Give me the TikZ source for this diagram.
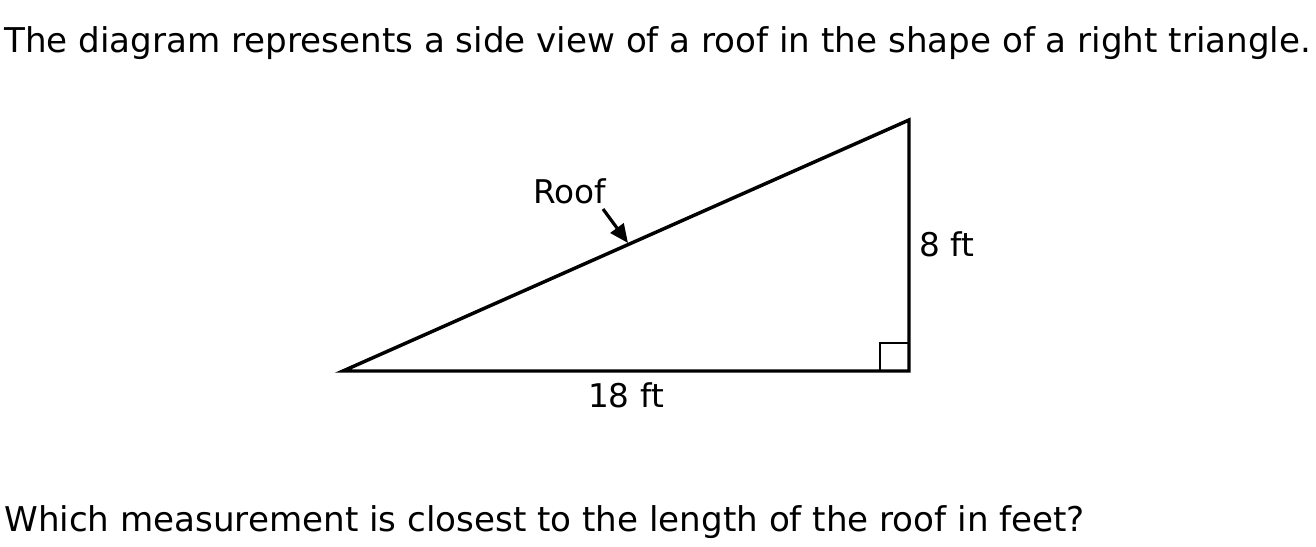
\documentclass[tikz,border=0pt]{standalone}
\usepackage{fontspec}
\setmainfont{DejaVu Sans}
\usetikzlibrary{arrows.meta}
\begin{document}
\begin{tikzpicture}[x=0.75pt,y=-0.75pt,
  edge/.style={line width=2.6pt,line join=miter},
  big/.style={font=\fontsize{25.6}{29}\selectfont,inner sep=0pt,anchor=base west},
  lab/.style={font=\fontsize{24.5}{28}\selectfont,inner sep=0pt}]
\useasboundingbox (0,0) rectangle (1316,546);
\fill[white] (0,0) rectangle (1316,546);
\node[big] (title) at (4,52) {The diagram represents a side view of a roof in the shape of a right triangle.};
\node[big] (question) at (4,531) {Which measurement is closest to the length of the roof in feet?};
\coordinate (A) at (343,371);
\coordinate (B) at (909,371);
\coordinate (C) at (909,120);
\draw[edge] (A) -- (B) -- (C) -- cycle;
\draw[line width=2.2pt] (880,371) |- (909,343);
\node[lab,anchor=base] (roof) at (570,203) {Roof};
\node[lab,anchor=base west] (h) at (919,256) {8 ft};
\node[lab,anchor=base] (w) at (626,407) {18 ft};
\coordinate (tip) at (628,243);
\draw[line width=2.4pt,-{Triangle[length=14pt,width=12pt]}] (603,209) -- (tip);
\end{tikzpicture}
\end{document}
